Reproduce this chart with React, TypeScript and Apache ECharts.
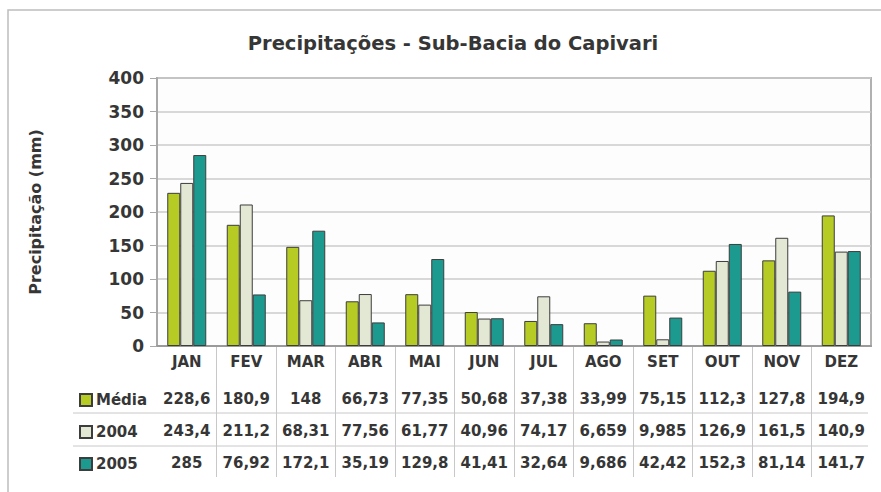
import React, { useEffect, useRef } from "react";
import * as echarts from "echarts";

const months = ["JAN", "FEV", "MAR", "ABR", "MAI", "JUN", "JUL", "AGO", "SET", "OUT", "NOV", "DEZ"];
const media = [228.6, 180.9, 148, 66.73, 77.35, 50.68, 37.38, 33.99, 75.15, 112.3, 127.8, 194.9];
const y2004 = [243.4, 211.2, 68.31, 77.56, 61.77, 40.96, 74.17, 6.659, 9.985, 126.9, 161.5, 140.9];
const y2005 = [285, 76.92, 172.1, 35.19, 129.8, 41.41, 32.64, 9.686, 42.42, 152.3, 81.14, 141.7];
const seriesNames = ["Média", "2004", "2005"];
const seriesColors = ["#b7cb25", "#e3e8d4", "#1d9a8f"];
const yTicks = { min: 0, max: 400, interval: 50 };

const FONT = "DejaVu Sans";
const TXT = "#363636";

const fmt = (v: number) => String(v).replace(".", ",");

export default function App() {
  const ref = useRef<HTMLDivElement>(null);
  useEffect(() => {
    if (!ref.current) return;
    const chart = echarts.init(ref.current, null, { renderer: "svg" });
    const allData = [media, y2004, y2005];
    const rowOffsets = [37, 69, 101];
    const rowAxes = allData.map((arr, i) => ({
      type: "category",
      gridIndex: 0,
      position: "bottom",
      offset: rowOffsets[i],
      data: arr.map(fmt),
      axisLine: { show: false },
      axisTick: { show: false },
      splitLine: { show: false },
      axisLabel: {
        interval: 0,
        margin: 8,
        fontFamily: FONT,
        fontWeight: "bold",
        fontSize: 15,
        color: TXT,
      },
    }));
    chart.setOption({
      animation: false,
      backgroundColor: "#ffffff",
      title: {
        text: "Precipitações - Sub-Bacia do Capivari",
        left: 448,
        top: 28,
        textAlign: "center",
        textStyle: { fontFamily: FONT, fontWeight: "bold", fontSize: 19.5, color: TXT },
      },
      legend: {
        orient: "vertical",
        left: 79,
        top: 392,
        padding: 0,
        itemGap: 16,
        itemWidth: 12,
        itemHeight: 12,
        icon: "rect",
        data: seriesNames,
        textStyle: {
          fontFamily: FONT,
          fontWeight: "bold",
          fontSize: 15,
          lineHeight: 16,
          color: TXT,
          padding: [0, 0, 0, -1],
        },
      },
      graphic: [
        {
          type: "rect",
          shape: { x: 8, y: 10, width: 880, height: 490 },
          style: { fill: "none", stroke: "#bdbdbd", lineWidth: 1.5 },
          silent: true,
          z: -1,
        },
        {
          type: "line",
          shape: { x1: 73, y1: 413, x2: 868, y2: 413 },
          style: { stroke: "#c8c8c8", lineWidth: 1 },
          silent: true,
        },
        {
          type: "line",
          shape: { x1: 73, y1: 446, x2: 868, y2: 446 },
          style: { stroke: "#c8c8c8", lineWidth: 1 },
          silent: true,
        },
      ],
      grid: [
        {
          left: 157,
          top: 78,
          right: 10,
          bottom: 146,
          show: true,
          borderColor: "#b3b0b0",
          borderWidth: 2,
          backgroundColor: "#fdfdfd",
          outerBoundsMode: "none",
        },
        {
          left: 157,
          top: 346,
          right: 10,
          height: 131,
          outerBoundsMode: "none",
        },
      ],
      xAxis: [
        {
          type: "category",
          gridIndex: 0,
          data: months,
          axisLine: { show: true, lineStyle: { color: "#9a9a9a", width: 2 } },
          axisTick: { show: false },
          axisLabel: {
            interval: 0,
            margin: 8,
            fontFamily: FONT,
            fontWeight: "bold",
            fontSize: 15,
            color: TXT,
          },
        },
        {
          type: "category",
          gridIndex: 1,
          data: months,
          axisLine: { show: false },
          axisTick: { show: false },
          axisLabel: { show: false },
          splitLine: {
            show: true,
            showMinLine: false,
            showMaxLine: false,
            lineStyle: { color: "#c8c8c8", width: 1 },
          },
        },
        ...rowAxes,
      ],
      yAxis: [
        {
          type: "value",
          gridIndex: 0,
          min: yTicks.min,
          max: yTicks.max,
          interval: yTicks.interval,
          name: "Precipitação (mm)",
          nameLocation: "middle",
          nameGap: 114,
          nameTextStyle: { fontFamily: FONT, fontWeight: "bold", fontSize: 16, color: TXT },
          axisLine: { show: true, lineStyle: { color: "#a8a8a8", width: 2 } },
          axisTick: { show: true, length: 7, lineStyle: { color: "#a8a8a8" } },
          axisLabel: {
            margin: 13,
            fontFamily: FONT,
            fontWeight: "bold",
            fontSize: 17,
            color: TXT,
          },
          splitLine: { show: true, lineStyle: { color: "#cbcbcb", width: 1.5 } },
        },
        {
          type: "value",
          gridIndex: 1,
          show: false,
          splitLine: { show: false },
        },
      ],
      series: allData.map((arr, i) => ({
        name: seriesNames[i],
        type: "bar",
        xAxisIndex: 0,
        yAxisIndex: 0,
        data: arr,
        barWidth: 13,
        barGap: "0%",
        itemStyle: { color: seriesColors[i], borderColor: "#3d3d3d", borderWidth: 1 },
      })),
    });
    return () => chart.dispose();
  }, []);
  return (
    <div
      ref={ref}
      style={{ position: "absolute", left: 0, top: 0, width: 881, height: 492 }}
    />
  );
}
